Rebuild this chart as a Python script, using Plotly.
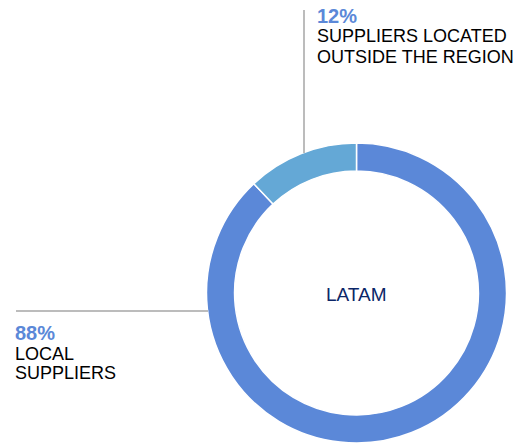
import plotly.graph_objects as go

# Share of suppliers by location, LATAM
labels = ["LOCAL<br>SUPPLIERS", "SUPPLIERS LOCATED<br>OUTSIDE THE REGION"]
values = [88, 12]
colors = ["#5B88D8", "#64A8D6"]
center_label = "LATAM"

W, H = 518, 445
FONT = "Liberation Sans, Arial, Helvetica, sans-serif"

# ring placement in pixels
cx, cy, r = 356.5, 293, 150


def px(x):
    return x / W


def py(y):
    return 1 - y / H


fig = go.Figure(
    go.Pie(
        labels=labels,
        values=values,
        marker=dict(colors=colors, line=dict(color="white", width=1.5)),
        hole=0.813,
        sort=False,
        direction="clockwise",
        rotation=0,
        textinfo="none",
        hoverinfo="label+percent",
        showlegend=False,
        domain=dict(x=[px(cx - r), px(cx + r)], y=[py(cy + r), py(cy - r)]),
    )
)

annotations = []


def add_text(text, x, y, size, color, bold=False):
    annotations.append(
        dict(
            text=f"<b>{text}</b>" if bold else text,
            x=px(x), y=py(y), xref="paper", yref="paper",
            xanchor="left", yanchor="middle", showarrow=False,
            font=dict(family=FONT, size=size, color=color),
        )
    )


# outside-region callout
out_lines = labels[1].split("<br>")
add_text(f"{values[1]}%", 315, 16, 20, colors[0], bold=True)
add_text(out_lines[0], 315, 35.5, 18, "#000000")
add_text(out_lines[1], 315, 57, 18, "#000000")

# local callout
loc_lines = labels[0].split("<br>")
add_text(f"{values[0]}%", 13, 333, 20, colors[0], bold=True)
add_text(loc_lines[0], 13, 354, 18, "#000000")
add_text(loc_lines[1], 13, 373, 18, "#000000")

annotations.append(
    dict(
        text=center_label, x=px(cx), y=py(cy + 1), xref="paper", yref="paper",
        xanchor="center", yanchor="middle", showarrow=False,
        font=dict(family=FONT, size=19, color="#0B2668"),
    )
)

# leader lines
shapes = [
    dict(type="line", xref="paper", yref="paper",
         x0=px(304), x1=px(304), y0=py(10), y1=py(153),
         line=dict(color="#A6A6A6", width=1.5)),
    dict(type="line", xref="paper", yref="paper",
         x0=px(16), x1=px(208), y0=py(311), y1=py(311),
         line=dict(color="#A6A6A6", width=1.5)),
]

fig.update_layout(
    width=W, height=H,
    margin=dict(l=0, r=0, t=0, b=0),
    paper_bgcolor="white", plot_bgcolor="white",
    annotations=annotations, shapes=shapes,
)

fig.write_html("out.html")
